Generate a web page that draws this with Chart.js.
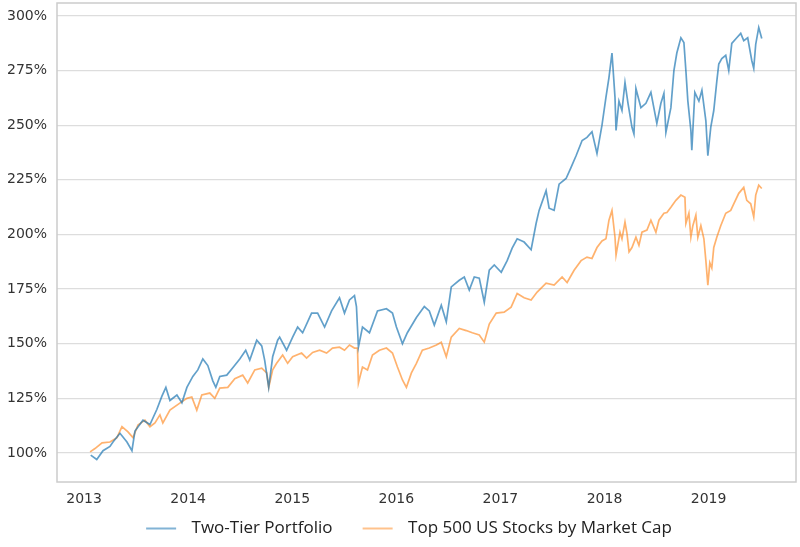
<!DOCTYPE html>
<html>
<head>
<meta charset="utf-8">
<script src="https://cdn.jsdelivr.net/npm/chart.js@4.4.0/dist/chart.umd.min.js"></script>
<style>
  html, body { margin: 0; padding: 0; background: #fff; }
  #wrap { width: 800px; height: 547px; }
</style>
</head>
<body>
<div id="wrap"><canvas id="perfChart" width="800" height="547"></canvas></div>
<script>
// Growth of 100 (in %). Dates are decimal years.
const twoTierDates = [
  2013.064, 2013.122, 2013.182, 2013.249, 2013.278, 2013.345, 2013.412, 2013.460, 2013.489, 2013.566,
  2013.633, 2013.700, 2013.748, 2013.786, 2013.825, 2013.892, 2013.940, 2013.988, 2014.045, 2014.093,
  2014.141, 2014.189, 2014.237, 2014.266, 2014.304, 2014.371, 2014.429, 2014.496, 2014.553, 2014.592,
  2014.659, 2014.707, 2014.735, 2014.774, 2014.812, 2014.860, 2014.879, 2014.946, 2015.004, 2015.052,
  2015.100, 2015.186, 2015.244, 2015.311, 2015.378, 2015.454, 2015.502, 2015.550, 2015.598, 2015.617,
  2015.636, 2015.675, 2015.742, 2015.819, 2015.905, 2015.963, 2016.001, 2016.059, 2016.106, 2016.193,
  2016.269, 2016.317, 2016.365, 2016.432, 2016.480, 2016.528, 2016.605, 2016.653, 2016.701, 2016.749,
  2016.797, 2016.845, 2016.893, 2016.941, 2017.008, 2017.065, 2017.113, 2017.161, 2017.228, 2017.295,
  2017.343, 2017.372, 2017.439, 2017.468, 2017.516, 2017.564, 2017.631, 2017.679, 2017.727, 2017.785,
  2017.832, 2017.880, 2017.928, 2017.976, 2018.014, 2018.043, 2018.072, 2018.101, 2018.111, 2018.139,
  2018.168, 2018.197, 2018.226, 2018.264, 2018.283, 2018.302, 2018.350, 2018.398, 2018.446, 2018.503,
  2018.542, 2018.571, 2018.590, 2018.638, 2018.667, 2018.695, 2018.734, 2018.763, 2018.782, 2018.801,
  2018.830, 2018.839, 2018.868, 2018.907, 2018.936, 2018.974, 2018.993, 2019.021, 2019.050, 2019.079,
  2019.098, 2019.127, 2019.165, 2019.194, 2019.223, 2019.271, 2019.309, 2019.338, 2019.376, 2019.415,
  2019.434, 2019.453, 2019.482, 2019.511
];
const twoTierValues = [
  99, 97, 101, 103, 105, 109, 105, 101, 110, 115,
  113, 120, 126, 130, 124, 126.5, 123, 130, 135, 138,
  143, 140, 133, 130, 135, 135.6, 139, 143, 147, 142.5,
  151.6, 149, 142.5, 130, 144, 151.6, 153, 147, 153, 157.6,
  155, 164, 164, 157.6, 165, 171, 164, 170, 172, 167,
  148.4, 157.6, 155, 165, 166, 164, 157.6, 150, 155, 162,
  167, 165, 158.5, 167.6, 160, 176, 179, 180.5, 174.5, 180.5,
  180, 169, 183.6, 186, 182.7, 188, 193.7, 198, 196.5, 193,
  205, 211, 220, 212, 211, 223, 225.6, 230.7, 236, 243,
  244.4, 247, 237, 250, 262.7, 271.8, 283, 262.7, 247.6, 261,
  256.7, 269.5, 260, 249, 246, 266.8, 258, 260, 265, 250.8,
  260, 264.5, 246.7, 258, 275, 283, 290, 287.8, 275, 261,
  247.6, 238.5, 265, 261, 266, 252, 236, 249, 256.7, 270,
  278, 280.5, 282, 275, 287.4, 290, 292, 288.7, 290, 279.6,
  276, 287, 294.7, 289.7
];

const top500Dates = [
  2013.058, 2013.105, 2013.173, 2013.249, 2013.316, 2013.364, 2013.422, 2013.470, 2013.518, 2013.585,
  2013.633, 2013.681, 2013.729, 2013.757, 2013.825, 2013.920, 2013.988, 2014.035, 2014.083, 2014.131,
  2014.208, 2014.256, 2014.304, 2014.381, 2014.448, 2014.524, 2014.572, 2014.640, 2014.707, 2014.755,
  2014.774, 2014.812, 2014.850, 2014.908, 2014.956, 2015.004, 2015.090, 2015.138, 2015.196, 2015.263,
  2015.330, 2015.387, 2015.454, 2015.502, 2015.550, 2015.598, 2015.627, 2015.636, 2015.675, 2015.723,
  2015.771, 2015.838, 2015.905, 2015.963, 2016.011, 2016.059, 2016.097, 2016.145, 2016.193, 2016.250,
  2016.317, 2016.385, 2016.432, 2016.480, 2016.528, 2016.605, 2016.672, 2016.730, 2016.797, 2016.845,
  2016.893, 2016.960, 2017.036, 2017.103, 2017.161, 2017.228, 2017.295, 2017.353, 2017.439, 2017.516,
  2017.593, 2017.641, 2017.708, 2017.775, 2017.832, 2017.880, 2017.928, 2017.976, 2018.014, 2018.043,
  2018.072, 2018.101, 2018.111, 2018.149, 2018.168, 2018.197, 2018.216, 2018.236, 2018.264, 2018.302,
  2018.331, 2018.360, 2018.408, 2018.446, 2018.494, 2018.523, 2018.571, 2018.600, 2018.638, 2018.686,
  2018.734, 2018.773, 2018.782, 2018.811, 2018.830, 2018.849, 2018.878, 2018.897, 2018.926, 2018.955,
  2018.974, 2018.993, 2019.012, 2019.031, 2019.050, 2019.079, 2019.117, 2019.165, 2019.213, 2019.242,
  2019.290, 2019.338, 2019.367, 2019.405, 2019.434, 2019.453, 2019.482, 2019.511
];
const top500Values = [
  100.5, 102, 104.6, 105, 107, 112, 109.6, 107, 112.8, 115,
  112, 113.7, 117.4, 113.7, 119.6, 122.8, 125, 125.6, 119.6, 126.5,
  127.4, 125, 129.7, 130, 134, 135.6, 132, 138, 138.8, 136.6,
  130, 138, 141, 144.8, 141, 144, 145.7, 143.4, 146, 147,
  145.7, 148, 148.4, 147, 149.4, 148, 148, 132, 139.3, 138,
  144.8, 147, 148, 145.7, 139.3, 133.4, 130, 136.6, 141, 147,
  148, 149.4, 150.7, 144, 153, 157, 156, 155, 154, 150.7,
  159, 164, 164.4, 166.7, 173, 171, 170, 173.6, 177.7, 176.8,
  180.5, 178, 183.6, 188, 189.6, 189, 194, 197, 198, 206.5,
  211, 198.7, 190.5, 201, 198, 205.6, 200.5, 192, 194, 198.7,
  195, 201, 202, 206.5, 201, 206.5, 209.7, 210, 212.4, 215.6,
  218, 217, 205, 209.7, 198.7, 204, 208.8, 198.7, 204, 198,
  188, 176.8, 187, 184.6, 194, 198.7, 204, 209.7, 211, 214,
  218.8, 221.5, 215.6, 214, 208, 218, 222.5, 221
];

const yearTicks = [2013, 2014, 2015, 2016, 2017, 2018, 2019];
const pctTicks = [100, 125, 150, 175, 200, 225, 250, 275, 300];
const seriesNames = ['Two-Tier Portfolio', 'Top 500 US Stocks by Market Cap'];

const blueLine = 'rgba(31, 119, 180, 0.7)';
const orangeLine = 'rgba(255, 127, 14, 0.6)';

function toPoints(dates, values) {
    return dates.map((d, i) => ({ x: d, y: values[i] }));
}

// legend swatch: blank room on the left (spacing between items), then a 30px line
function legendSwatch(color) {
    const c = document.createElement('canvas');
    c.width = 59;
    c.height = 4;
    const g = c.getContext('2d');
    g.strokeStyle = color;
    g.lineWidth = 1.6;
    g.beginPath();
    g.moveTo(22, 2);
    g.lineTo(52, 2);
    g.stroke();
    return c;
}

// light grey frame round the plot area
const framePlugin = {
    id: 'frame',
    afterDraw(chart) {
        const a = chart.chartArea;
        const ctx = chart.ctx;
        ctx.save();
        ctx.strokeStyle = '#cccccc';
        ctx.lineWidth = 1.5;
        ctx.strokeRect(a.left, a.top, a.right - a.left, a.bottom - a.top);
        ctx.restore();
    }
};

const ctx = document.getElementById('perfChart').getContext('2d');
new Chart(ctx, {
    type: 'line',
    data: {
        datasets: [{
            label: seriesNames[0],
            data: toPoints(twoTierDates, twoTierValues),
            borderColor: blueLine,
            backgroundColor: blueLine,
            borderWidth: 1.7,
            pointRadius: 0,
            pointStyle: legendSwatch(blueLine),
            tension: 0,
            fill: false
        }, {
            label: seriesNames[1],
            data: toPoints(top500Dates, top500Values),
            borderColor: orangeLine,
            backgroundColor: orangeLine,
            borderWidth: 1.7,
            pointRadius: 0,
            pointStyle: legendSwatch(orangeLine),
            tension: 0,
            fill: false
        }]
    },
    options: {
        responsive: false,
        animation: false,
        layout: { padding: { left: 0, right: 4, top: 3, bottom: 0 } },
        plugins: {
            tooltip: { enabled: false },
            legend: {
                position: 'bottom',
                labels: {
                    usePointStyle: true,
                    pointStyleWidth: 59,
                    padding: 8,
                    color: '#222',
                    font: { family: 'Open Sans', size: 17 }
                }
            }
        },
        scales: {
            x: {
                type: 'linear',
                min: 2012.74,
                max: 2019.84,
                afterBuildTicks: scale => { scale.ticks = yearTicks.map(v => ({ value: v })); },
                afterFit: scale => {
                    scale.height = 30;
                    scale.paddingLeft = 0;
                    scale.paddingRight = 0;
                },
                grid: { display: false },
                border: { display: false },
                ticks: {
                    padding: 1,
                    color: '#333',
                    font: { family: 'DejaVu Sans', size: 14 },
                    callback: v => String(v)
                }
            },
            y: {
                min: 86.7,
                max: 305.9,
                afterBuildTicks: scale => { scale.ticks = pctTicks.map(v => ({ value: v })); },
                afterFit: scale => {
                    scale.width = 57;
                    scale.paddingTop = 0;
                    scale.paddingBottom = 0;
                },
                grid: { color: '#dddddd', lineWidth: 1.2, drawTicks: false },
                border: { display: false },
                ticks: {
                    padding: 10,
                    color: '#333',
                    font: { family: 'DejaVu Sans', size: 14 },
                    callback: v => v + '%'
                }
            }
        }
    },
    plugins: [framePlugin]
});
</script>
</body>
</html>
